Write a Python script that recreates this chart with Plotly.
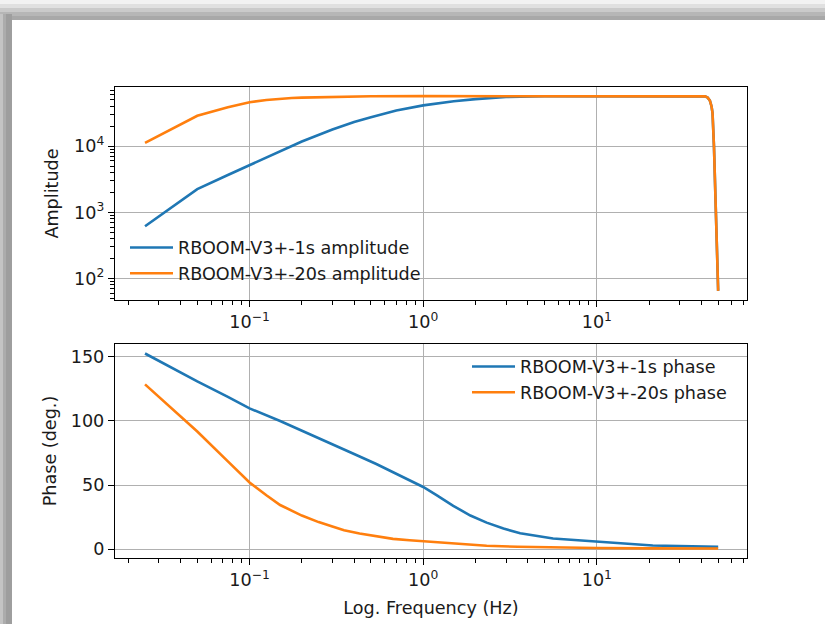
import plotly.graph_objects as go

# ---------------- data ----------------
freq_amp_1s = [0.025, 0.05, 0.075, 0.1, 0.15, 0.2, 0.3, 0.4, 0.5, 0.7, 1.0, 1.5, 2.0, 3.0, 5.0,
               10.0, 20.0, 40.0, 42.0, 43.5, 44.8, 45.8, 46.4, 47.3, 48.4, 49.2, 50.0]
amp_1s = [617, 2240, 3670, 5200, 8470, 11800, 17900, 23300, 27300, 34700, 41400, 47900, 51500,
          55600, 56900, 57100, 57150, 57150, 56600, 54300, 49000, 39800, 31600, 9770, 977, 245, 65]

freq_amp_20s = [0.025, 0.05, 0.075, 0.1, 0.125, 0.15, 0.175, 0.2, 0.3, 0.5, 1.0, 2.0, 5.0, 10.0,
                20.0, 40.0, 42.0, 43.5, 44.8, 45.8, 46.4, 47.3, 48.4, 49.2, 50.0]
amp_20s = [11200, 28800, 38900, 46200, 50000, 52500, 53600, 54300, 56000, 56900, 57100, 57150,
           57150, 57150, 57150, 57150, 56600, 54300, 49000, 39800, 31600, 9770, 977, 245, 65]

freq_ph_1s = [0.025, 0.05, 0.075, 0.1, 0.15, 0.222, 0.3, 0.4, 0.537, 0.7, 0.85, 1.0, 1.2,
              1.49, 1.87, 2.32, 2.9, 3.62, 5.6, 10.0, 21.0, 50.0]
phase_1s = [152.6, 130.8, 118.8, 109.8, 99.9, 89.8, 81.8, 74.2, 66.4, 59.0, 53.6, 48.5,
            42.0, 33.8, 26.2, 20.7, 16.1, 12.4, 8.3, 5.8, 2.9, 1.8]

freq_ph_20s = [0.025, 0.05, 0.075, 0.1, 0.125, 0.15, 0.2, 0.25, 0.3, 0.35, 0.43, 0.537, 0.67,
               0.835, 1.0, 1.5, 2.32, 3.5, 5.0, 10.0, 20.0, 50.0]
phase_20s = [128.5, 91.8, 68.5, 52.0, 42.0, 34.4, 26.2, 21.1, 17.6, 14.8, 12.2, 9.8, 8.0,
             7.0, 6.2, 4.3, 2.6, 1.9, 1.5, 0.9, 0.6, 0.5]

x_tick_vals = [0.1, 1, 10]
x_tick_text = ["10<sup>−1</sup>", "10<sup>0</sup>", "10<sup>1</sup>"]
amp_tick_vals = [100, 1000, 10000]
amp_tick_text = ["10<sup>2</sup>", "10<sup>3</sup>", "10<sup>4</sup>"]
phase_tick_vals = [0, 50, 100, 150]

names = ["RBOOM-V3+-1s amplitude", "RBOOM-V3+-20s amplitude",
         "RBOOM-V3+-1s phase", "RBOOM-V3+-20s phase"]

# ---------------- style ----------------
BLUE = "#1f77b4"
ORANGE = "#ff7f0e"
FONT = "DejaVu Sans"
FS = 17.6
W, H = 825, 624
LW = 2.6


def px(x):
    return x / W


def py(y):
    return 1 - y / H


minor_x = [m * 10 ** e for e in (-2, -1, 0, 1) for m in range(2, 10)]
minor_amp = [m * 10 ** e for e in (1, 2, 3, 4) for m in range(2, 10)]

fig = go.Figure()
fig.add_trace(go.Scatter(x=freq_amp_1s, y=amp_1s, mode="lines", name=names[0],
                         line=dict(color=BLUE, width=LW), xaxis="x", yaxis="y", legend="legend"))
fig.add_trace(go.Scatter(x=freq_amp_20s, y=amp_20s, mode="lines", name=names[1],
                         line=dict(color=ORANGE, width=LW), xaxis="x", yaxis="y", legend="legend"))
fig.add_trace(go.Scatter(x=freq_ph_1s, y=phase_1s, mode="lines", name=names[2],
                         line=dict(color=BLUE, width=LW), xaxis="x2", yaxis="y2", legend="legend2"))
fig.add_trace(go.Scatter(x=freq_ph_20s, y=phase_20s, mode="lines", name=names[3],
                         line=dict(color=ORANGE, width=LW), xaxis="x2", yaxis="y2", legend="legend2"))

common = dict(showline=True, linecolor="black", linewidth=1.3, mirror=True,
              ticks="outside", ticklen=6, tickwidth=1.2, tickcolor="black",
              showgrid=True, gridcolor="#b0b0b0", gridwidth=1.2, zeroline=False,
              tickfont=dict(family=FONT, size=FS, color="#1a1a1a"))

xdom = [px(115), px(747)]
xcommon = dict(common, type="log", range=[-1.775, 1.865], domain=xdom,
               tickmode="array", tickvals=x_tick_vals, ticktext=x_tick_text,
               minor=dict(tickmode="array", tickvals=minor_x, ticks="outside", ticklen=3.5,
                          tickwidth=1.0, tickcolor="black", showgrid=False))

legend_style = dict(xanchor="left", yanchor="top", bgcolor="rgba(0,0,0,0)", borderwidth=0,
                    font=dict(family=FONT, size=FS, color="#1a1a1a"), itemwidth=43,
                    tracegroupgap=0)

fig.update_layout(
    width=W, height=H,
    margin=dict(l=0, r=0, t=0, b=0),
    paper_bgcolor="white", plot_bgcolor="white",
    font=dict(family=FONT, size=FS, color="#1a1a1a"),
    xaxis=dict(xcommon, anchor="y"),
    yaxis=dict(common, type="log", range=[1.675, 4.895], domain=[py(300), py(87)], anchor="x",
               tickmode="array", tickvals=amp_tick_vals, ticktext=amp_tick_text,
               minor=dict(tickmode="array", tickvals=minor_amp, ticks="outside", ticklen=3.5,
                          tickwidth=1.0, tickcolor="black", showgrid=False),
               title=dict(text="Amplitude", font=dict(family=FONT, size=FS), standoff=10)),
    xaxis2=dict(xcommon, anchor="y2",
                title=dict(text="Log. Frequency (Hz)", font=dict(family=FONT, size=FS),
                           standoff=12)),
    yaxis2=dict(common, range=[-6.9, 160.0], domain=[py(558), py(344)], anchor="x2",
                tickmode="array", tickvals=phase_tick_vals,
                title=dict(text="Phase (deg.)", font=dict(family=FONT, size=FS), standoff=9)),
    legend=dict(legend_style, x=px(125), y=py(229.5)),
    legend2=dict(legend_style, x=px(467), y=py(348.5)),
    showlegend=True,
)

# window shadow frame (top and left strips)
top_steps = [(0, 4, "#f2f2f2"), (4, 8, "#e0e0e0"), (8, 12, "#cacaca"), (12, 16, "#b6b6b6"),
             (16, 20, "#a8a8a8")]
for y0, y1, c in top_steps:
    fig.add_shape(type="rect", xref="paper", yref="paper", x0=0, x1=1, y0=py(y1), y1=py(y0),
                  fillcolor=c, line=dict(width=0), layer="below")
left_steps = [(0, 3, "#c4c4c4"), (3, 6, "#acacac"), (6, 12, "#9e9e9e")]
for x0, x1, c in left_steps:
    fig.add_shape(type="rect", xref="paper", yref="paper", x0=px(x0), x1=px(x1), y0=0, y1=py(14),
                  fillcolor=c, line=dict(width=0), layer="below")

fig.write_html(
    "out.html",
    config={"displayModeBar": False},
    post_script="document.body.style.margin='0px';"
                "document.documentElement.style.overflow='hidden';",
)
